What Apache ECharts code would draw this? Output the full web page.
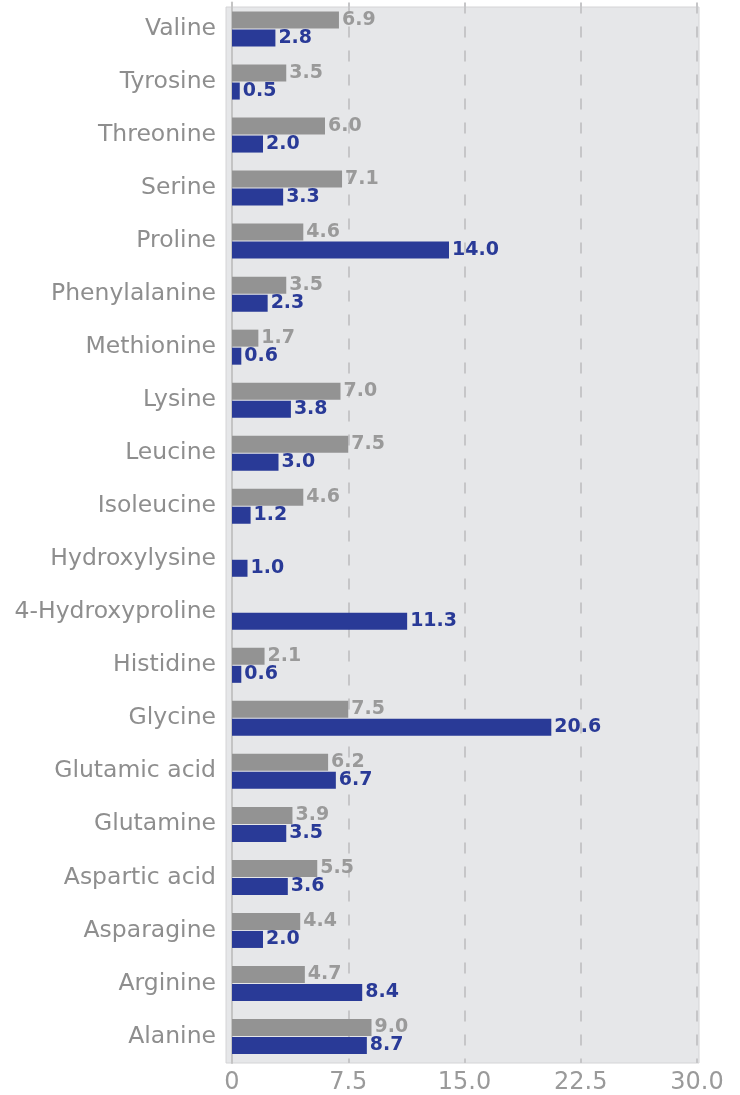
<!DOCTYPE html>
<html><head><meta charset="utf-8">
<script src="https://cdn.jsdelivr.net/npm/echarts@6/dist/echarts.min.js"></script>
<style>html,body{margin:0;padding:0;background:#fff}#c{width:740px;height:1095px}</style>
</head><body><div id="c"></div>
<script>
var categories = ["Alanine","Arginine","Asparagine","Aspartic acid","Glutamine","Glutamic acid","Glycine","Histidine","4-Hydroxyproline","Hydroxylysine","Isoleucine","Leucine","Lysine","Methionine","Phenylalanine","Proline","Serine","Threonine","Tyrosine","Valine"];
var greyValues = [9.0,4.7,4.4,5.5,3.9,6.2,7.5,2.1,null,null,4.6,7.5,7.0,1.7,3.5,4.6,7.1,6.0,3.5,6.9];
var blueValues = [8.7,8.4,2.0,3.6,3.5,6.7,20.6,0.6,11.3,1.0,1.2,3.0,3.8,0.6,2.3,14.0,3.3,2.0,0.5,2.8];
var xTicks = [0,7.5,15,22.5,30];

var FONT = "DejaVu Sans";
var chart = echarts.init(document.getElementById('c'), null, {renderer:'canvas'});
chart.setOption({
  animation:false,
  textStyle:{fontFamily:FONT},
  graphic:[{type:'rect',z:-10,silent:true,shape:{x:226,y:7,width:473,height:1056},style:{fill:'#e6e7e9',stroke:'#d4d4d6',lineWidth:1}}],
  grid:{left:232,right:43,top:2.5,bottom:28,containLabel:false},
  xAxis:{type:'value',min:0,max:30,interval:7.5,
    axisLine:{show:false},axisTick:{show:false},
    splitLine:{show:true,lineStyle:{color:'#c6c6c8',width:2,type:[11,13]}},
    axisLabel:{color:'#9a9a9a',fontSize:24,margin:8,fontFamily:FONT,
      formatter:function(v){return v===0?'0':v.toFixed(1);}}
  },
  yAxis:{type:'category',data:categories,offset:5,
    axisLine:{show:true,lineStyle:{color:'#c4c4c4',width:2}},
    axisTick:{show:false},
    axisLabel:{color:'#8e8e8e',fontSize:23.5,margin:11,fontFamily:FONT}
  },
  series:[
    {name:'grey',type:'bar',data:greyValues,barWidth:17,barGap:'6%',
     itemStyle:{color:'#939393'},
     label:{show:true,position:'right',distance:3,color:'#9a9a9a',fontWeight:'bold',fontSize:19,fontFamily:FONT,
       formatter:function(p){return p.value==null?'':p.value.toFixed(1);}}},
    {name:'blue',type:'bar',data:blueValues,barWidth:17,barGap:'6%',
     itemStyle:{color:'#293a97'},
     label:{show:true,position:'right',distance:3,color:'#293a97',fontWeight:'bold',fontSize:19,fontFamily:FONT,
       formatter:function(p){return p.value==null?'':p.value.toFixed(1);}}}
  ]
});
</script></body></html>
